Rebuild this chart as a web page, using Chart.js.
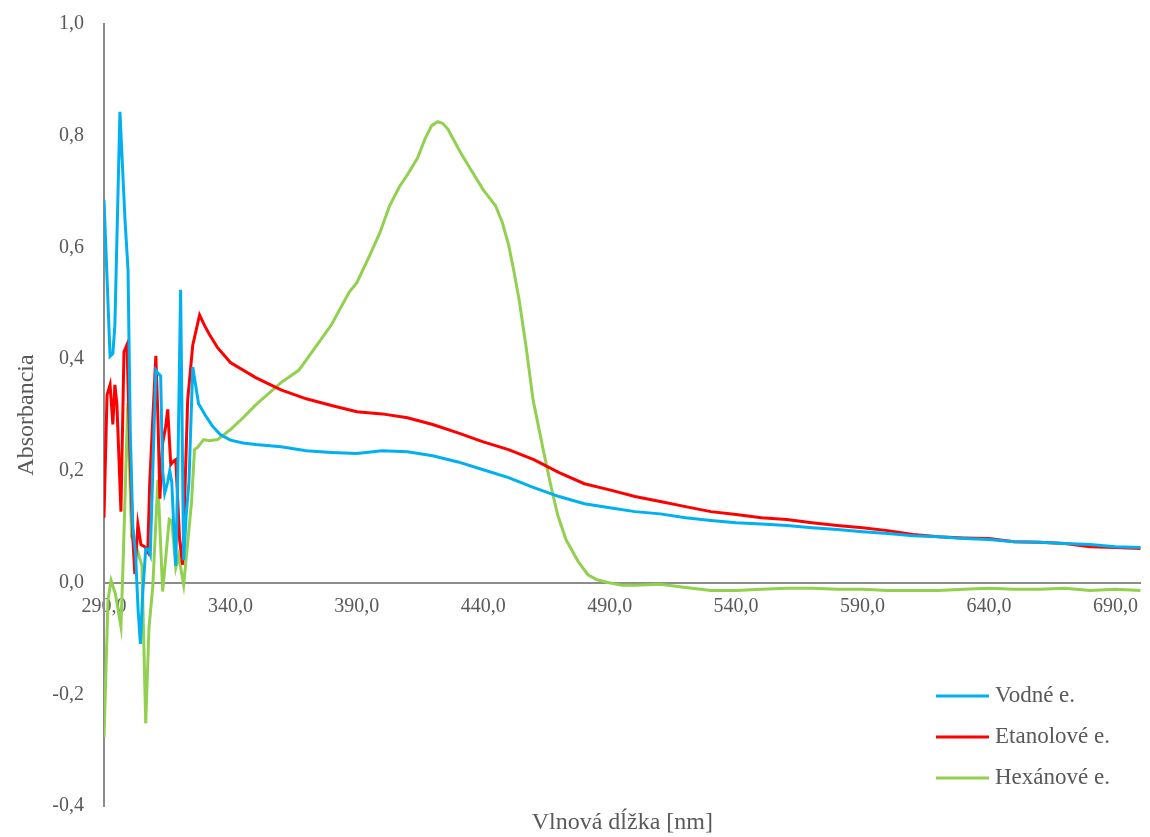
<!DOCTYPE html>
<html>
<head>
<meta charset="utf-8">
<script src="https://cdn.jsdelivr.net/npm/chart.js@4/dist/chart.umd.min.js"></script>
<style>
  html, body { margin: 0; padding: 0; background: #fff; }
  #wrap { width: 1150px; height: 837px; }
</style>
</head>
<body>
<div id="wrap"><canvas id="spektrum" width="1150" height="837"></canvas></div>
<script>
// wavelength [nm], absorbance
const vodne = [
  [290, 0.685], [292.4, 0.405], [293.5, 0.41], [294.3, 0.46], [296.3, 0.843],
  [298.3, 0.65], [299.5, 0.56], [300.4, 0.27], [301.4, 0.1], [302.5, 0.05],
  [303.5, -0.05], [304.4, -0.11], [305.3, -0.02], [306.5, 0.06], [307.5, 0.06],
  [308.3, 0.05], [309.3, 0.2], [310.5, 0.38], [311.3, 0.375], [312.4, 0.37],
  [313.2, 0.2], [314, 0.16], [315.2, 0.18], [316, 0.2], [316.8, 0.18],
  [317.6, 0.1], [318.4, 0.03], [319.2, 0.2], [320.3, 0.524], [321.1, 0.2],
  [321.5, 0.04], [322.5, 0.12], [323.6, 0.18], [325.1, 0.386], [327.4, 0.32],
  [330, 0.3], [332.9, 0.28], [336, 0.265], [340, 0.255], [345, 0.25],
  [350, 0.247], [360, 0.243], [370, 0.236], [380, 0.233], [390, 0.231],
  [400, 0.236], [410, 0.234], [420, 0.227], [430, 0.216], [440, 0.202],
  [450, 0.188], [460, 0.17], [470, 0.154], [480, 0.141], [490, 0.134],
  [500, 0.127], [510, 0.123], [520, 0.116], [530, 0.111], [540, 0.107],
  [550, 0.105], [560, 0.102], [570, 0.098], [580, 0.095], [590, 0.091],
  [600, 0.088], [610, 0.084], [620, 0.082], [630, 0.079], [640, 0.077],
  [650, 0.073], [660, 0.072], [670, 0.07], [680, 0.068], [690, 0.064], [700, 0.063]
];

const etanolove = [
  [290, 0.116], [291.2, 0.336], [292.4, 0.354], [293.5, 0.283], [294.3, 0.354],
  [295.1, 0.32], [296.7, 0.127], [297.9, 0.413], [299.1, 0.426], [300.2, 0.24],
  [301.4, 0.08], [302.2, 0.015], [303.4, 0.104], [304.6, 0.068], [306.1, 0.064],
  [307.3, 0.055], [308.1, 0.18], [310.5, 0.406], [311.3, 0.3], [312.1, 0.15],
  [313.2, 0.25], [314.4, 0.28], [315.2, 0.31], [316.4, 0.211], [317.2, 0.216],
  [318.4, 0.22], [319.9, 0.077], [321.1, 0.032], [323.1, 0.327], [325.1, 0.425],
  [327.8, 0.479], [329.8, 0.46], [331.7, 0.444], [335, 0.42], [340, 0.394],
  [350, 0.367], [360, 0.345], [370, 0.329], [380, 0.317], [390, 0.306],
  [400, 0.302], [410, 0.295], [420, 0.283], [430, 0.268], [440, 0.252],
  [450, 0.238], [460, 0.22], [470, 0.197], [480, 0.177], [490, 0.166],
  [500, 0.154], [510, 0.145], [520, 0.136], [530, 0.127], [540, 0.122],
  [550, 0.116], [560, 0.113], [570, 0.107], [580, 0.102], [590, 0.098],
  [600, 0.093], [610, 0.086], [620, 0.082], [630, 0.08], [640, 0.079],
  [650, 0.073], [660, 0.072], [670, 0.07], [680, 0.064], [690, 0.063], [700, 0.061]
];

const hexanove = [
  [290, -0.277], [291.6, -0.03], [292.8, 0.004], [294.5, -0.02], [296.7, -0.079],
  [297.5, 0.027], [299.4, 0.321], [300.9, 0.082], [302.2, 0.073], [305, 0.03],
  [306.5, -0.252], [307.8, -0.08], [309.3, -0.007], [311.3, 0.184], [313.2, -0.016],
  [315.8, 0.113], [316.8, 0.11], [318.4, 0.027], [319.5, 0.048], [321.5, -0.004],
  [324.6, 0.143], [325.8, 0.238], [327, 0.242], [329.4, 0.256], [331.7, 0.254],
  [334.9, 0.256], [340, 0.274], [345, 0.295], [350, 0.318], [360, 0.358],
  [367, 0.38], [375, 0.43], [380, 0.462], [387, 0.52], [390, 0.537],
  [395, 0.585], [399, 0.625], [403, 0.675], [407, 0.71], [410, 0.73],
  [414, 0.76], [417, 0.795], [419.6, 0.818], [422, 0.825], [424, 0.822],
  [426, 0.812], [428, 0.795], [431, 0.77], [435, 0.74], [440, 0.703],
  [444.8, 0.675], [447.5, 0.645], [450, 0.605], [452, 0.56], [454.2, 0.506],
  [457, 0.42], [459.7, 0.327], [463.7, 0.238], [466.8, 0.172], [469.5, 0.12],
  [472.7, 0.077], [477.5, 0.038], [481.4, 0.014], [485, 0.005], [489.3, 0.0],
  [495, -0.005], [500, -0.005], [510, -0.003], [520, -0.009], [530, -0.014],
  [540, -0.014], [550, -0.012], [560, -0.01], [570, -0.01], [580, -0.012],
  [590, -0.012], [600, -0.014], [610, -0.014], [620, -0.014], [630, -0.012],
  [640, -0.01], [650, -0.012], [660, -0.012], [670, -0.01], [680, -0.014],
  [690, -0.012], [700, -0.014]
];

const seriesNames = ["Vodné e.", "Etanolové e.", "Hexánové e."];
const xTicks = [290, 340, 390, 440, 490, 540, 590, 640, 690];
const yTicks = [-0.4, -0.2, 0, 0.2, 0.4, 0.6, 0.8, 1.0];

const serif = "'Liberation Serif', 'Times New Roman', serif";
const textColor = "#595959";
const axisColor = "#8c8c8c";

function toPoints(arr) {
  return arr.map((p) => ({ x: p[0], y: p[1] }));
}

function comma(v) {
  return v.toFixed(1).replace(".", ",");
}

// x title + legend drawn on the canvas (Excel-like placement)
const extras = {
  id: "extras",
  afterDraw(chart) {
    const ctx = chart.ctx,
      area = chart.chartArea;
    ctx.save();
    ctx.fillStyle = textColor;
    ctx.font = "24px " + serif;
    ctx.textAlign = "center";
    ctx.textBaseline = "middle";
    ctx.fillText("Vlnová dĺžka [nm]", (area.left + area.right) / 2, 823);

    ctx.font = "23px " + serif;
    ctx.textAlign = "left";
    chart.data.datasets.forEach((ds, i) => {
      const y = 696 + i * 41;
      ctx.strokeStyle = ds.borderColor;
      ctx.lineWidth = 3;
      ctx.beginPath();
      ctx.moveTo(936, y);
      ctx.lineTo(989, y);
      ctx.stroke();
      ctx.fillText(ds.label, 995, y);
    });
    ctx.restore();
  },
};

const dataSpec = {
  datasets: [
    {
      label: seriesNames[0],
      data: toPoints(vodne),
      borderColor: "#00B0F0",
    },
    {
      label: seriesNames[1],
      data: toPoints(etanolove),
      borderColor: "#FF0000",
    },
    {
      label: seriesNames[2],
      data: toPoints(hexanove),
      borderColor: "#92D050",
    },
  ],
};

dataSpec.datasets.forEach((ds) => {
  ds.borderWidth = 3;
  ds.pointRadius = 0;
  ds.pointHoverRadius = 0;
  ds.tension = 0;
  ds.fill = false;
  ds.showLine = true;
});

const configSpec = {
  type: "line",
  data: dataSpec,
  options: {
    responsive: false,
    animation: false,
    events: [],
    layout: {
      padding: { top: 24, right: 5, bottom: 31, left: 0 },
    },
    scales: {
      x: {
        type: "linear",
        min: 290,
        max: 700,
        position: { y: 0 },
        afterBuildTicks: (scale) => {
          scale.ticks = xTicks.map((v) => ({ value: v }));
        },
        afterFit: (scale) => {
          scale.paddingTop = 0;
          scale.paddingBottom = 0;
        },
        grid: { display: false, drawTicks: false },
        border: { display: true, color: axisColor, width: 2 },
        ticks: {
          padding: 12,
          color: textColor,
          font: { family: serif, size: 20 },
          maxRotation: 0,
          autoSkip: false,
          callback: (v) => comma(v),
        },
      },
      y: {
        min: -0.4,
        max: 1.0,
        afterBuildTicks: (scale) => {
          scale.ticks = yTicks.map((v) => ({ value: v }));
        },
        afterFit: (scale) => {
          scale.width = 104;
          scale.paddingTop = 0;
          scale.paddingBottom = 0;
        },
        grid: { display: false, drawTicks: false },
        border: { display: true, color: axisColor, width: 2 },
        title: {
          display: true,
          text: "Absorbancia",
          color: textColor,
          font: { family: serif, size: 24 },
          padding: { top: 12, bottom: 0 },
        },
        ticks: {
          padding: 20,
          color: textColor,
          font: { family: serif, size: 20 },
          callback: (v) => comma(v),
        },
      },
    },
    plugins: {
      legend: { display: false },
      title: { display: false },
      tooltip: { enabled: false },
    },
  },
  plugins: [extras],
};

const chartSpektrum = new Chart(document.getElementById("spektrum"), configSpec);
</script>
</body>
</html>
